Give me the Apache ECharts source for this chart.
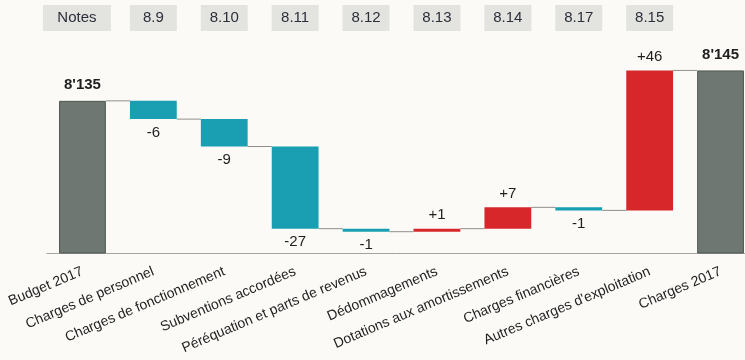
<!DOCTYPE html>
<html>
<head>
<meta charset="utf-8">
<style>
  html, body { margin: 0; padding: 0; background: #fbfaf7; }
  #chart { width: 745px; height: 360px; }
</style>
<script src="https://cdn.jsdelivr.net/npm/echarts@6/dist/echarts.min.js"></script>
</head>
<body>
<div id="chart"></div>
<script>
// Waterfall: budget 2017 → charges 2017, in thousands
const categories = [
  'Budget 2017',
  'Charges de personnel',
  'Charges de fonctionnement',
  'Subventions accordées',
  'Péréquation et parts de revenus',
  'Dédommagements',
  'Dotations aux amortissements',
  'Charges financières',
  "Autres charges d'exploitation",
  'Charges 2017'
];
const notes = ['Notes', '8.9', '8.10', '8.11', '8.12', '8.13', '8.14', '8.17', '8.15', ''];
const budgetTotal = 8135;
const changes = [-6, -9, -27, -1, 1, 7, -1, 46];
const finalTotal = 8145;

const GREY = '#6e7771';
const TEAL = '#199fb1';
const RED = '#d8272b';
const FONT = "'Liberation Sans', Arial, sans-serif";

const fmtThousands = v => String(v).replace(/\B(?=(\d{3})+(?!\d))/g, "'");

// running levels: base of each floating bar and level after each step
const baseVals = [0];
const deltaItems = [{
  value: budgetTotal,
  itemStyle: { color: GREY, borderColor: '#4f5752', borderWidth: 1 },
  label: { position: 'top', distance: 8, fontWeight: 'bold', fontSize: 15,
           formatter: () => fmtThousands(budgetTotal) }
}];
const levels = [budgetTotal];
let level = budgetTotal;
changes.forEach(d => {
  const next = level + d;
  baseVals.push(Math.min(level, next));
  deltaItems.push({
    value: Math.abs(d),
    itemStyle: { color: d < 0 ? TEAL : RED },
    label: { position: d < 0 ? 'bottom' : 'top', distance: 6,
             formatter: () => (d > 0 ? '+' : '') + d }
  });
  level = next;
  levels.push(level);
});
baseVals.push(0);
deltaItems.push({
  value: finalTotal,
  itemStyle: { color: GREY, borderColor: '#4f5752', borderWidth: 1 },
  label: { position: 'top', distance: 8, fontWeight: 'bold', fontSize: 15,
           formatter: () => fmtThousands(finalTotal) }
});

// connector segments between neighbouring bars
const connectorData = levels.map((v, i) => [i, v]);

const chart = echarts.init(document.getElementById('chart'), null, { renderer: 'canvas' });
chart.setOption({
  backgroundColor: '#fbfaf7',
  animation: false,
  textStyle: { fontFamily: FONT },
  grid: { left: 47, top: 40, width: 709, height: 213, outerBoundsMode: 'none', containLabel: false },
  xAxis: [
    {
      type: 'category',
      data: categories,
      position: 'bottom',
      axisLine: { lineStyle: { color: '#a3a3a0', width: 1 } },
      axisTick: { show: false },
      axisLabel: {
        interval: 0, rotate: 23, margin: 18,
        fontSize: 14, color: '#222', fontFamily: FONT
      }
    },
    {
      type: 'category',
      data: notes,
      position: 'top',
      axisLine: { show: false },
      axisTick: { show: false },
      axisLabel: {
        interval: 0, margin: 22, verticalAlign: 'middle',
        // the header box sits a little left of its column, hence the blank spacer
        formatter: (v, i) => v === '' ? '' : (i === 0 ? '{n|' + v + '}{s|}' : '{b|' + v + '}'),
        rich: {
          n: { width: 68, height: 26, lineHeight: 26, align: 'center',
               backgroundColor: '#e3e3e0', color: '#2b2f3a', fontSize: 15, fontFamily: FONT },
          s: { width: 11, height: 26 },
          b: { width: 47, height: 26, lineHeight: 26, align: 'center',
               backgroundColor: '#e3e3e0', color: '#2b2f3a', fontSize: 15, fontFamily: FONT }
        }
      }
    }
  ],
  yAxis: { type: 'value', min: 8085, max: 8155, show: false, splitLine: { show: false } },
  series: [
    {
      name: 'connectors',
      type: 'custom',
      z: 1,
      data: connectorData,
      renderItem: (params, api) => {
        const i = api.value(0);
        if (i >= categories.length - 1) return null;
        const p = api.coord([i, api.value(1)]);
        const band = api.size([1, 0])[0];
        const half = band * 0.33;
        return {
          type: 'line',
          shape: { x1: p[0] + half, y1: p[1], x2: p[0] + band - half, y2: p[1] },
          style: { stroke: '#8f8f8c', lineWidth: 1 }
        };
      }
    },
    {
      name: 'base',
      type: 'bar',
      stack: 'wf',
      barWidth: '66%',
      itemStyle: { color: 'transparent' },
      emphasis: { disabled: true },
      data: baseVals
    },
    {
      name: 'delta',
      type: 'bar',
      stack: 'wf',
      barWidth: '66%',
      z: 3,
      label: { show: true, fontSize: 15, color: '#1e1e1e', fontFamily: FONT },
      data: deltaItems
    }
  ]
});
</script>
</body>
</html>
